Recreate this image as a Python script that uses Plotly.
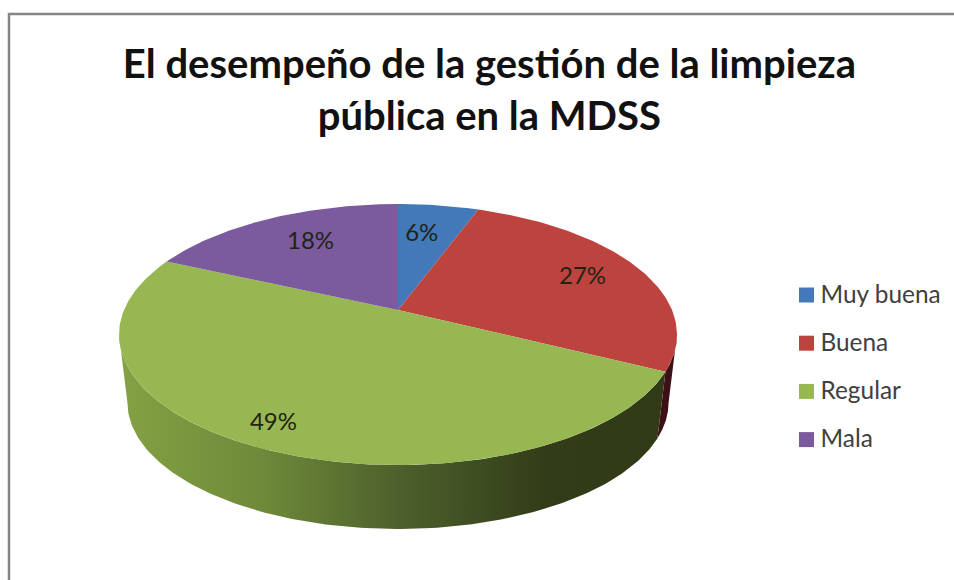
import numpy as np
import plotly.graph_objects as go

categories = ["Muy buena", "Buena", "Regular", "Mala"]
values = [5.6, 26.8, 49.4, 18.2]
labels = ["6%", "27%", "49%", "18%"]
colors = ["#4379b8", "#bd433f", "#97b752", "#7b5a9e"]
label_radius = [0.70, 0.78, 0.90, 0.70]
label_dx = [-6, -4, 1, 6]
label_dy = [2, 2, -7, 0]
title_text = "El desempeño de la gestión de la limpieza<br>pública en la MDSS"

# Perspective projection of the tilted pie, in pixel-sized axis units
CX, CY, RX, RY, K, DEPTH, BASE_SCALE = 398.0, 310.0, 274.0, 125.9, 0.188, 68.6, 0.97


def project(theta_deg, r=1.0, drop=0.0):
    t = np.radians(theta_deg)
    w = 1 + K * r * np.cos(t)
    return CX + RX * r * np.sin(t) / w, CY - RY * r * np.cos(t) / w + drop


edges = np.concatenate([[0], np.cumsum(values)]) * 3.6
fig = go.Figure()


def wall(a0, a1, **style):
    th = np.linspace(a0, a1, 160)
    xt, yt = project(th)
    xb, yb = project(th, r=1.0, drop=DEPTH)
    xb = CX + (xb - CX) * BASE_SCALE
    yb = CY + DEPTH + (yb - CY - DEPTH) * BASE_SCALE
    fig.add_trace(go.Scatter(
        x=np.concatenate([xt, xb[::-1]]), y=np.concatenate([yt, yb[::-1]]),
        mode="lines", line=dict(width=0), fill="toself", hoverinfo="skip",
        showlegend=False, **style))


wall(100.8, edges[2], fillcolor="#3d0f16")
wall(edges[2], 259.2, fillcolor="#7d9a3e", fillgradient=dict(
    type="horizontal", start=120, stop=665,
    colorscale=[[0, "#84a143"], [0.26, "#6e8a3a"], [0.51, "#4e602c"],
                [0.68, "#3c4a20"], [0.78, "#333c18"], [1, "#313a17"]]))

for i, cat in enumerate(categories):
    th = np.linspace(edges[i], edges[i + 1], max(int(values[i] * 4), 8))
    x, y = project(th)
    fig.add_trace(go.Scatter(
        x=np.concatenate([[CX], x, [CX]]), y=np.concatenate([[CY], y, [CY]]),
        mode="lines", line=dict(width=0), fill="toself", fillcolor=colors[i],
        name=cat, showlegend=False, hovertemplate=f"{cat}: {labels[i]}<extra></extra>"))

mids = (edges[:-1] + edges[1:]) / 2
lx, ly = zip(*[project(m, r) for m, r in zip(mids, label_radius)])
fig.add_trace(go.Scatter(
    x=np.array(lx) + label_dx, y=np.array(ly) + label_dy,
    mode="text", text=labels, showlegend=False, hoverinfo="skip",
    textfont=dict(family="Lato", size=24, color="#1f2414")))

# Legend column
LEG_X, LEG_TEXT_X, LEG_Y0, LEG_STEP = 806.5, 820.5, 295.0, 48.2
leg_y = [LEG_Y0 + i * LEG_STEP for i in range(4)]
fig.add_trace(go.Scatter(
    x=[LEG_X] * 4, y=leg_y, mode="markers",
    marker=dict(symbol="square", size=15, color=colors, line=dict(width=0)),
    showlegend=False, hoverinfo="skip"))
fig.add_trace(go.Scatter(
    x=[LEG_TEXT_X] * 4, y=[v + 1.5 for v in leg_y], mode="text",
    text=categories, textposition="middle right",
    textfont=dict(family="Lato", size=24.4, color="#404040"),
    showlegend=False, hoverinfo="skip"))

fig.update_layout(
    width=954, height=580, autosize=False,
    margin=dict(l=0, r=0, t=0, b=0),
    paper_bgcolor="white", plot_bgcolor="white",
    showlegend=False,
    title=dict(text=title_text, x=0.513, xanchor="center", y=0.866, yanchor="middle",
               font=dict(family="Lato", size=40, color="#111111", weight="bold")),
    xaxis=dict(visible=False, range=[0, 954], fixedrange=True),
    yaxis=dict(visible=False, range=[580, 0], fixedrange=True),
    shapes=[dict(type="rect", xref="x", yref="y", x0=9, y0=14, x1=1000, y1=640,
                 line=dict(color="#868686", width=2.5), layer="below")],
)
fig.write_html("out.html", config={"displayModeBar": False},
               post_script="document.body.style.margin='0';document.body.style.overflow='hidden';")
